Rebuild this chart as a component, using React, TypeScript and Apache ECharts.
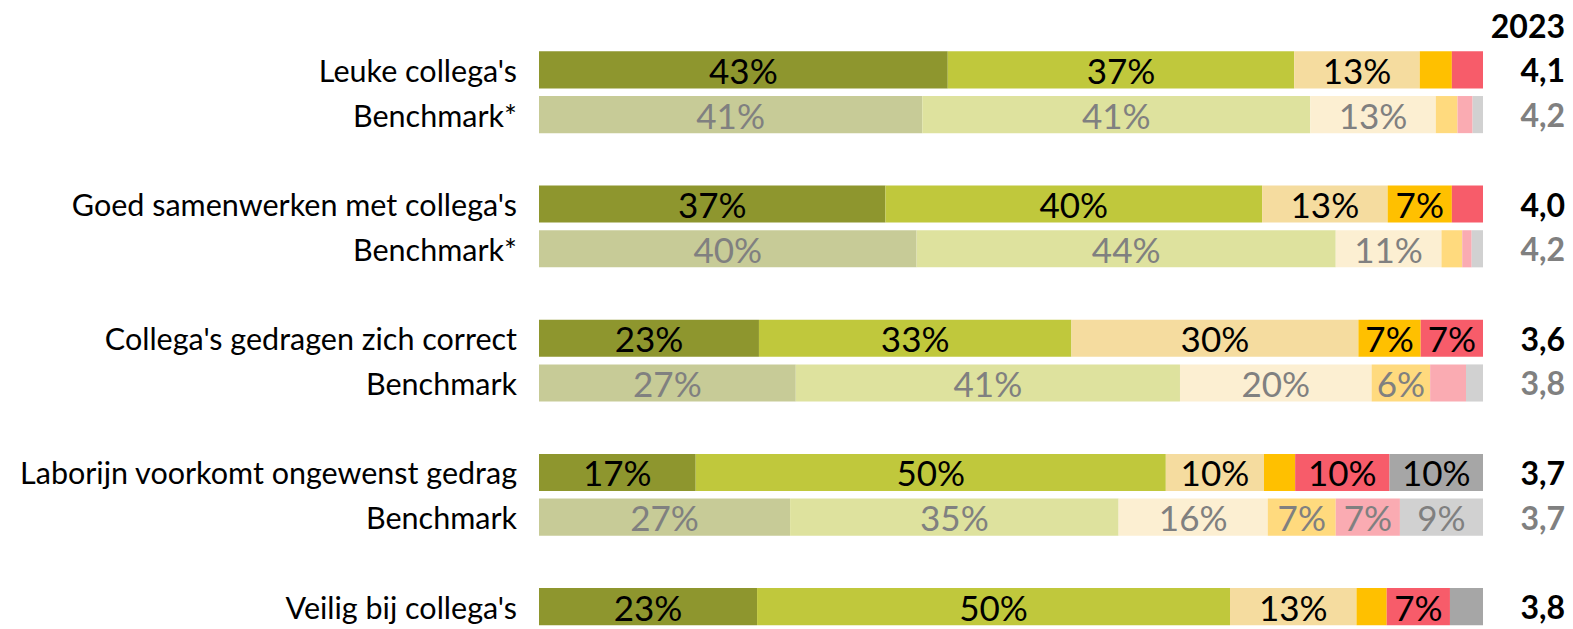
import React, { useEffect, useRef } from "react";
import * as echarts from "echarts";

const categories = [
  "Leuke collega's", "Benchmark*", "",
  "Goed samenwerken met collega's", "Benchmark*", "",
  "Collega's gedragen zich correct", "Benchmark", "",
  "Laborijn voorkomt ongewenst gedrag", "Benchmark", "",
  "Veilig bij collega's",
];
// true = benchmark row
const isBench = [false, true, false, false, true, false, false, true, false, false, true, false, false];

const scores = ["4,1", "4,2", "", "4,0", "4,2", "", "3,6", "3,8", "", "3,7", "3,7", "", "3,8"];

// answer levels (from most positive to negative / unknown), per row
const level1 = [43.3, 40.6, null, 36.7, 40.0, null, 23.3, 27.2, null, 16.6, 26.6, null, 23.1];
const level2 = [36.7, 41.1, null, 39.9, 44.4, null, 33.1, 40.7, null, 49.8, 34.8, null, 50.1];
const level3 = [13.3, 13.3, null, 13.3, 11.2, null, 30.4, 20.3, null, 10.4, 15.8, null, 13.4];
const level4 = [3.4, 2.3, null, 6.8, 2.2, null, 6.6, 6.2, null, 3.3, 7.2, null, 3.2];
const level5 = [3.3, 1.6, null, 3.3, 1.0, null, 6.6, 3.8, null, 10.0, 6.8, null, 6.7];
const level6 = [0, 1.1, null, 0, 1.2, null, 0, 1.8, null, 9.9, 8.8, null, 3.5];

const mainColors = ["#8E962E", "#C0C83C", "#F5DC9F", "#FFC000", "#F75C6A", "#A6A6A6"];
const benchColors = ["#C7CB97", "#DEE29E", "#FCEFD2", "#FFDA7E", "#FAABB2", "#D1D1D1"];

const FONT = "Lato, 'Noto Sans', sans-serif";

export default function App() {
  const ref = useRef<HTMLDivElement>(null);
  useEffect(() => {
    if (!ref.current) return;
    const chart = echarts.init(ref.current, undefined, { renderer: "svg" });
    const levels = [level1, level2, level3, level4, level5, level6];
    const series = levels.map((arr, li) => ({
      type: "bar" as const,
      stack: "s",
      barWidth: "83%",
      data: arr.map((v, i) =>
        v === null
          ? null
          : {
              value: v,
              itemStyle: { color: isBench[i] ? benchColors[li] : mainColors[li] },
              label: {
                show: v >= 5,
                color: isBench[i] ? "#808080" : "#000000",
              },
            }
      ),
      label: {
        show: true,
        position: "inside" as const,
        fontFamily: FONT,
        fontSize: 35,
        formatter: (p: any) => Math.round(p.value) + "%",
      },
      emphasis: { disabled: true },
    }));
    chart.setOption({
      animation: false,
      grid: { left: 539, width: 944, top: 47.5, height: 13 * 45.1 },
      xAxis: { type: "value", min: 0, max: 100, show: false },
      yAxis: [
        {
          type: "category",
          data: categories,
          inverse: true,
          axisLine: { show: false },
          axisTick: { show: false },
          axisLabel: {
            fontFamily: FONT,
            fontSize: 30.5,
            color: "#000000",
            margin: 22,
          },
        },
        {
          type: "category",
          position: "right",
          data: scores,
          inverse: true,
          axisLine: { show: false },
          axisTick: { show: false },
          axisLabel: {
            fontFamily: FONT,
            fontSize: 32,
            fontWeight: "bold",
            align: "right",
            margin: 82,
            formatter: (v: string, i: number) => (isBench[i] ? "{b|" + v + "}" : "{m|" + v + "}"),
            rich: {
              m: { fontFamily: FONT, fontSize: 32, fontWeight: "bold", color: "#000000" },
              b: { fontFamily: FONT, fontSize: 32, fontWeight: "bold", color: "#808080" },
            },
          },
        },
      ],
      graphic: [
        {
          type: "text",
          right: 8,
          top: 9,
          style: {
            text: "2023",
            fontFamily: FONT,
            fontSize: 32,
            fontWeight: "bold",
            fill: "#000000",
          },
        },
      ],
      series,
    });
    return () => chart.dispose();
  }, []);
  return (
    <div
      ref={ref}
      style={{ position: "fixed", left: 0, top: 0, width: 1573, height: 629, background: "#ffffff" }}
    />
  );
}
